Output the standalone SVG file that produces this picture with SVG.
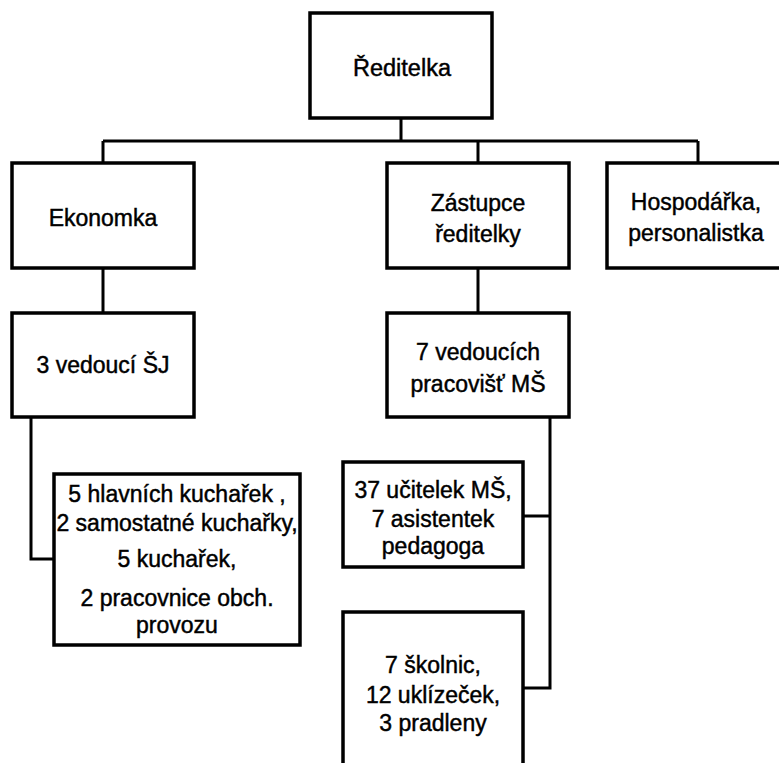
<svg xmlns="http://www.w3.org/2000/svg" width="779" height="763" viewBox="0 0 779 763">
<style>
.box{fill:#fff;stroke:#000;stroke-width:3.5}
.ln{fill:none;stroke:#000;stroke-width:3}
text{font-family:"Liberation Sans",Arial,sans-serif;font-size:23px;fill:#000;stroke:#000;stroke-width:0.45;text-anchor:middle}
</style>
<rect width="779" height="763" fill="#fff"/>
<g id="connectors">
<path class="ln" d="M401 118V141M103 141H698M103 141V163M478 141V163M698 141V163"/>
<path class="ln" d="M103 268V313M478 268V313"/>
<path class="ln" d="M31 417V559H54"/>
<path class="ln" d="M550 417V688H523M550 516H523"/>
</g>
<g id="n-reditelka"><rect class="box" x="310" y="13" width="182" height="105"/><text x="402" y="76" style="font-size:23.5px">Ředitelka</text></g>
<g id="n-ekonomka"><rect class="box" x="12" y="163" width="182" height="105"/><text x="103" y="226">Ekonomka</text></g>
<g id="n-zastupce"><rect class="box" x="387" y="163" width="182" height="105"/><text x="478" y="211">Zástupce</text><text x="478" y="242">ředitelky</text></g>
<g id="n-hospodarka"><rect class="box" x="607" y="163" width="183" height="105"/><text x="696" y="210">Hospodářka,</text><text x="696" y="241">personalistka</text></g>
<g id="n-vedouci-sj"><rect class="box" x="12" y="313" width="182" height="104"/><text x="103" y="373">3 vedoucí ŠJ</text></g>
<g id="n-vedoucich-ms"><rect class="box" x="387" y="313" width="182" height="104"/><text x="478" y="360">7 vedoucích</text><text x="478" y="392">pracovišť MŠ</text></g>
<g id="n-kucharky"><rect class="box" x="54" y="474" width="246" height="171"/>
<text x="177" y="502">5 hlavních kuchařek ,</text>
<text x="177" y="531">2 samostatné kuchařky,</text>
<text x="177" y="567">5 kuchařek,</text>
<text x="177" y="606">2 pracovnice obch.</text>
<text x="177" y="633">provozu</text></g>
<g id="n-ucitelky"><rect class="box" x="343" y="462" width="180" height="105"/>
<text x="433" y="498">37 učitelek MŠ,</text>
<text x="433" y="527">7 asistentek</text>
<text x="433" y="554">pedagoga</text></g>
<g id="n-skolnice"><rect class="box" x="343" y="612" width="180" height="170"/>
<text x="433" y="673">7 školnic,</text>
<text x="433" y="703">12 uklízeček,</text>
<text x="433" y="731">3 pradleny</text></g>
</svg>
